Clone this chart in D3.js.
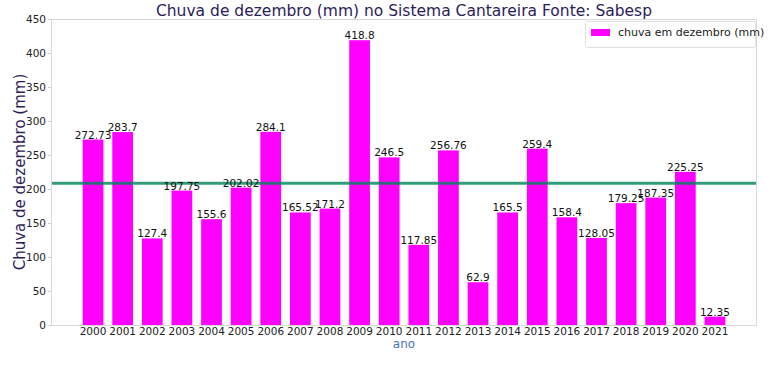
<!DOCTYPE html>
<html>
<head>
<meta charset="utf-8">
<script src="https://cdn.jsdelivr.net/npm/d3@7"></script>
<style>
  html, body { margin: 0; padding: 0; background: #fff; }
  svg { display: block; font-family: "DejaVu Sans", sans-serif; }
</style>
</head>
<body>
<svg id="chart" width="774" height="365"></svg>
<script>
const anos = ["2000","2001","2002","2003","2004","2005","2006","2007","2008","2009","2010","2011","2012","2013","2014","2015","2016","2017","2018","2019","2020","2021"];
const chuva = [272.73,283.7,127.4,197.75,155.6,202.02,284.1,165.52,171.2,418.8,246.5,117.85,256.76,62.9,165.5,259.4,158.4,128.05,179.25,187.35,225.25,12.35];
const rotulos = ["272.73","283.7","127.4","197.75","155.6","202.02","284.1","165.52","171.2","418.8","246.5","117.85","256.76","62.9","165.5","259.4","158.4","128.05","179.25","187.35","225.25","12.35"];
const mediaHistorica = [208.4];
const yTicks = [0,50,100,150,200,250,300,350,400,450];

const svg = d3.select("#chart");
const m = {left: 51, right: 757, top: 19, bottom: 325};

const x = d3.scaleBand().domain(anos).range([m.left, m.right]).paddingInner(0.3).paddingOuter(1.07);
const y = d3.scaleLinear().domain([0, 450]).range([m.bottom, m.top]);

// frame
svg.append("rect").attr("x", m.left + 0.5).attr("y", m.top + 0.5)
  .attr("width", m.right - m.left - 1).attr("height", m.bottom - m.top)
  .attr("fill", "none").attr("stroke", "#d8d8d8").attr("stroke-width", 1);

// bars
svg.append("g").selectAll("rect").data(anos).join("rect")
  .attr("x", d => x(d)).attr("width", x.bandwidth())
  .attr("y", (d, i) => y(chuva[i])).attr("height", (d, i) => y(0) - y(chuva[i]))
  .attr("fill", "#ff00ff");

// mean line
svg.append("line")
  .attr("x1", m.left + 1).attr("x2", m.right - 1)
  .attr("y1", y(mediaHistorica[0])).attr("y2", y(mediaHistorica[0]))
  .attr("stroke", "#00845a").attr("stroke-opacity", 0.8).attr("stroke-width", 3);

// value labels
svg.append("g").selectAll("text").data(anos).join("text")
  .attr("x", d => x(d) + x.bandwidth() / 2)
  .attr("y", (d, i) => y(chuva[i]) - 1)
  .attr("text-anchor", "middle").attr("font-size", 10.5).attr("fill", "#111")
  .text((d, i) => rotulos[i]);

// y axis
const yAxis = svg.append("g").attr("transform", `translate(${m.left},0)`)
  .call(d3.axisLeft(y).tickValues(yTicks).tickSize(3).tickPadding(2));
yAxis.select(".domain").remove();
yAxis.selectAll("line").attr("stroke", "#cccccc");
yAxis.selectAll("text").attr("font-size", 10.5).attr("fill", "#222").attr("font-family", "DejaVu Sans");

// x axis
const xAxis = svg.append("g").attr("transform", `translate(0,${m.bottom})`)
  .call(d3.axisBottom(x).tickSize(0).tickPadding(3));
xAxis.select(".domain").remove();
xAxis.selectAll("text").attr("font-size", 10.5).attr("fill", "#222").attr("font-family", "DejaVu Sans");

// title
svg.append("text").attr("x", (m.left + m.right) / 2).attr("y", 16)
  .attr("text-anchor", "middle").attr("font-size", 15.5).attr("fill", "#2b1d5a")
  .text("Chuva de dezembro (mm) no Sistema Cantareira Fonte: Sabesp");

// y label
svg.append("text").attr("transform", `translate(25,${(m.top + m.bottom) / 2}) rotate(-90)`)
  .attr("text-anchor", "middle").attr("font-size", 15).attr("fill", "#2b1d5a")
  .text("Chuva de dezembro (mm)");

// x label
svg.append("text").attr("x", (m.left + m.right) / 2).attr("y", 348)
  .attr("text-anchor", "middle").attr("font-size", 12).attr("fill", "#4a72b8")
  .text("ano");

// legend
const lg = svg.append("g");
lg.append("rect").attr("x", 585.5).attr("y", 21.5).attr("width", 170).attr("height", 26)
  .attr("fill", "#fff").attr("fill-opacity", 0.8).attr("stroke", "#e0e0e0").attr("rx", 2);
lg.append("rect").attr("x", 591).attr("y", 29).attr("width", 19).attr("height", 7).attr("fill", "#ff00ff");
lg.append("text").attr("x", 618).attr("y", 36).attr("font-size", 11).attr("fill", "#222")
  .text("chuva em dezembro (mm)");
</script>
</body>
</html>
